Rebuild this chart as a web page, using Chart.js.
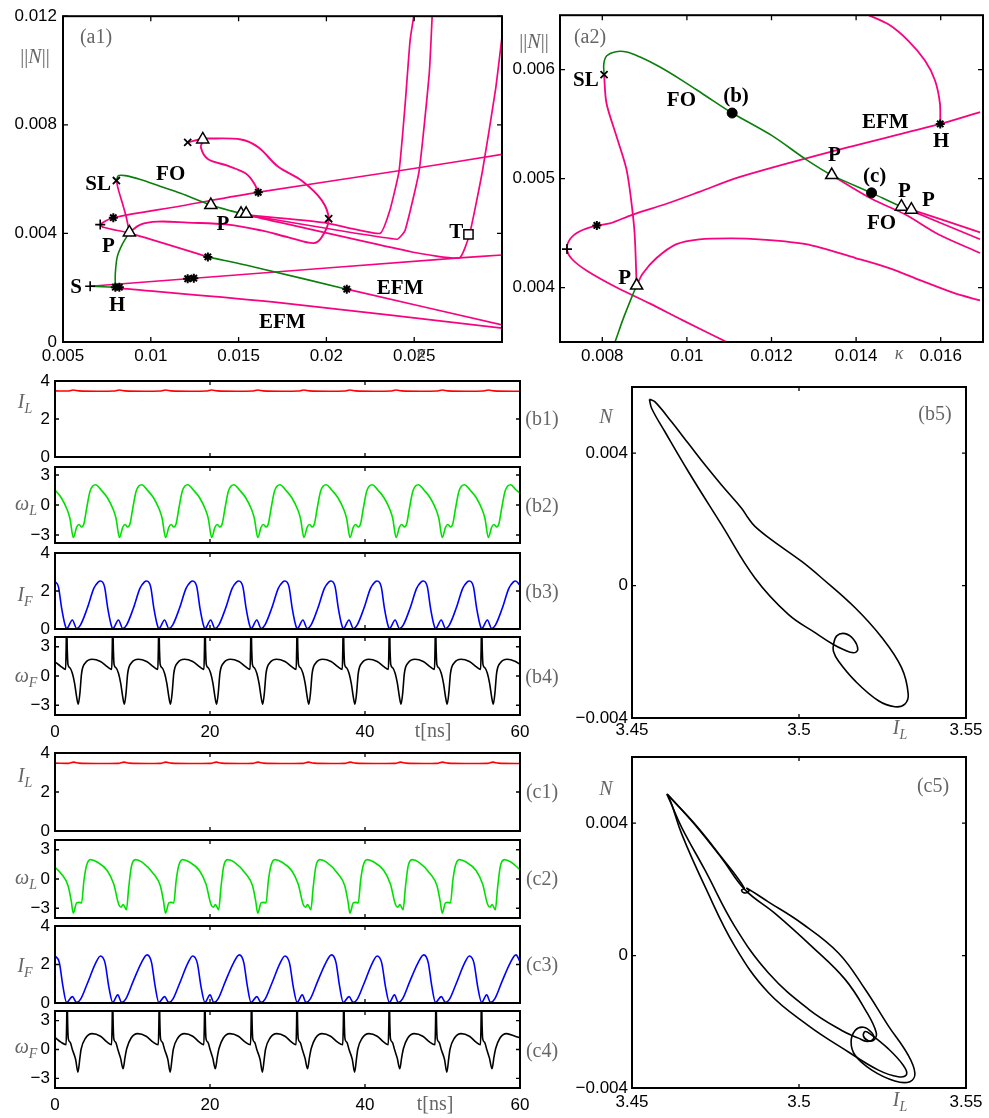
<!DOCTYPE html>
<html>
<head>
<meta charset="utf-8">
<title>Branches of periodic orbits and sample trajectories</title>
<script src="https://cdn.jsdelivr.net/npm/chart.js@4.4.1/dist/chart.umd.min.js"></script>
<style>
  html, body { margin: 0; padding: 0; background: #fff; }
  #page { position: relative; width: 989px; height: 1118px; overflow: hidden; }
  #page canvas { position: absolute; left: 0; top: 0; }
</style>
</head>
<body>
<div id="page">
  <canvas id="a1"></canvas><canvas id="a2"></canvas>
  <canvas id="b1"></canvas><canvas id="b2"></canvas><canvas id="b3"></canvas><canvas id="b4"></canvas><canvas id="b5"></canvas>
  <canvas id="c1"></canvas><canvas id="c2"></canvas><canvas id="c3"></canvas><canvas id="c4"></canvas><canvas id="c5"></canvas>
</div>
<script>
// ---------- (a1) bifurcation diagram, kappa vs ||N|| ----------
const a1Ticks = { x: [0.005, 0.01, 0.015, 0.02, 0.025], y: [0, 0.004, 0.008, 0.012] };

const a1UpperFold = [[0.0301,0.00692],[0.02488,0.00638],[0.01606,0.00551],[0.0117,0.00501],[0.007865,0.004577],[0.00712,0.004325],[0.00735,0.004217],[0.00884,0.004],[0.01325,0.003135]];
const a1FoldGreen = [[0.01325,0.003135],[0.01629,0.0027],[0.02116,0.001946]];
const a1FoldTail = [[0.02116,0.001946],[0.0301,0.000613]];
const a1SLine = [[0.006547,0.002054],[0.0121,0.00233],[0.02758,0.0031],[0.0301,0.003208]];
const a1HLine = [[0.00815,0.001982],[0.01743,0.001442],[0.0301,0.000505]];
const a1SGreen = [[0.006547,0.002054],[0.00798,0.002018]];
const a1HtoP = [[0.00798,0.002018],[0.00798,0.002523],[0.00809,0.003135],[0.00838,0.003604],[0.00878,0.004036]];
const a1PtoSL = [[0.00878,0.004036],[0.00861,0.004577],[0.00838,0.005118],[0.00815,0.005622],[0.00804,0.005947]];
const a1FO = [[0.00804,0.005947],[0.00815,0.006127],[0.00855,0.006127],[0.00941,0.005983],[0.01056,0.00573],[0.0117,0.005478],[0.01342,0.005046],[0.01457,0.004829],[0.01526,0.004721],[0.01543,0.004685]];
const a1Branch1 = [[0.01543,0.004685],[0.0199,0.004397],[0.02305,0.004],[0.02362,0.004865],[0.02414,0.006307],[0.02448,0.008722],[0.02477,0.011136],[0.025,0.0121]];
const a1Branch2 = [[0.01543,0.004685],[0.02402,0.003784],[0.02448,0.004109],[0.02528,0.006307],[0.02586,0.009911],[0.02603,0.0121]];
const a1Branch3 = [[0.01543,0.004685],[0.02488,0.003316],[0.02758,0.0031],[0.02815,0.003964],[0.02889,0.006307],[0.02964,0.009334],[0.0301,0.011785]];
const a1Loop = [[0.00878,0.004036],[0.00941,0.004325],[0.01039,0.004433],[0.0121,0.004397],[0.0144,0.004325],[0.01629,0.004109],[0.01784,0.003856],[0.01927,0.00364],[0.01973,0.003856],[0.02013,0.004505],[0.01973,0.005226],[0.01858,0.005947],[0.01726,0.006451],[0.01612,0.007172],[0.01514,0.00746],[0.01296,0.007496]];
const a1Hook = [[0.0121,0.007352],[0.01296,0.00746],[0.01285,0.007172],[0.01325,0.006739],[0.0144,0.006487],[0.01543,0.006199],[0.01589,0.005838],[0.01612,0.005514]];

const a1Plus = [[0.006547,0.002054],[0.00712,0.004325]];
const a1Star = [[0.007865,0.004577],[0.01325,0.003135],[0.01612,0.005514],[0.0121,0.00233],[0.01245,0.00235],[0.02116,0.001946],[0.00798,0.002018],[0.00821,0.002018]];
const a1Tri = [[0.00878,0.004036],[0.01342,0.005046],[0.01514,0.004721],[0.01543,0.004721],[0.01296,0.00746]];
const a1Cross = [[0.00804,0.005947],[0.0121,0.007352],[0.02013,0.004541]];
const a1Square = [[0.02809,0.003964]];

const a1Labels = [['SL',0.007,0.0058],['FO',0.01113,0.00616],['P',0.00758,0.0035],['P',0.01411,0.00432],['S',0.00574,0.00202],
                  ['H',0.00809,0.00133],['EFM',0.0242,0.00195],['EFM',0.01749,0.00072],['T',0.0274,0.00404]];

// ---------- (a2) enlargement ----------
const a2Ticks = { x: [0.008, 0.01, 0.012, 0.014, 0.016], y: [0.004, 0.005, 0.006] };

const a2FoLow = [[0.00824,0.00345],[0.008294,0.003493],[0.008482,0.003701],[0.008694,0.00391],[0.008812,0.004018]];
const a2PtoSL = [[0.008812,0.004018],[0.008765,0.004489],[0.008687,0.004787],[0.008569,0.005089],[0.008334,0.005391],[0.008099,0.005692],[0.008042,0.005955]];
const a2FO = [[0.008042,0.005955],[0.008035,0.006054],[0.008106,0.006127],[0.008294,0.006163],[0.008576,0.006163],[0.008882,0.006118],[0.009353,0.006027],[0.009894,0.0059],[0.010459,0.005756],[0.01107,0.005602],[0.012012,0.005394],[0.012812,0.005177],[0.013424,0.005032],[0.014365,0.004869],[0.015071,0.004742],[0.015306,0.004715]];
const a2Efm = [[0.01693,0.005611],[0.015989,0.005502],[0.013424,0.005249],[0.011235,0.005014],[0.010294,0.004878],[0.009518,0.004769],[0.008718,0.00467],[0.008177,0.004588],[0.007871,0.00457],[0.007471,0.004516],[0.007235,0.004443],[0.007165,0.004353],[0.007282,0.004262],[0.007635,0.004154],[0.008341,0.004],[0.009118,0.003855],[0.009894,0.003701],[0.01093,0.003502]];
const a2HUp = [[0.015989,0.005502],[0.015981,0.005692],[0.015864,0.005903],[0.015628,0.006084],[0.015235,0.006265],[0.014765,0.006416],[0.014254,0.006507]];
const a2PRight = [[0.008812,0.004018],[0.008953,0.004127],[0.009282,0.004271],[0.009753,0.004398],[0.010294,0.004443],[0.011071,0.004452],[0.011706,0.004443],[0.012812,0.004398],[0.013988,0.004271],[0.014765,0.004181],[0.015541,0.004063],[0.016341,0.003946],[0.01693,0.003882]];
const a2Branch1 = [[0.013424,0.005032],[0.014365,0.004815],[0.015165,0.00467],[0.015941,0.004489],[0.01693,0.004317]];
const a2Branch2 = [[0.015071,0.004742],[0.01693,0.004443]];
const a2Branch3 = [[0.015306,0.004715],[0.01693,0.004507]];

const a2Cross = [[0.008042,0.005955]];
const a2Star = [[0.007871,0.00457],[0.015989,0.005502]];
const a2Plus = [[0.007165,0.004353]];
const a2Tri = [[0.008812,0.004018],[0.013424,0.005032],[0.015071,0.004742],[0.015306,0.004715]];
const a2Dot = [[0.01107,0.005602],[0.014365,0.004869]];

const a2Labels = [['SL',0.00761,0.0059],['FO',0.00987,0.00572],['(b)',0.01116,0.00575],['P',0.00853,0.00408],['EFM',0.01469,0.00551],
                  ['H',0.01601,0.00534],['P',0.01349,0.00521],['(c)',0.01444,0.00502],['P',0.01514,0.00488],['P',0.01571,0.0048],['FO',0.0146,0.00459]];

// ---------- time traces, t in ns ----------
const tTicks = [0, 20, 40, 60];
const iTicks = [0, 2, 4];
const wTicks = [-3, 0, 3];

const iLb = [[0,3.48],[1.67,3.47],[2.37,3.53],[3.07,3.48],[5.57,3.46],[7.62,3.47],[8.32,3.53],[9.02,3.48],[11.52,3.46],
  [13.57,3.47],[14.27,3.53],[14.97,3.48],[17.47,3.46],[19.52,3.47],[20.22,3.53],[20.92,3.48],[23.42,3.46],
  [25.47,3.47],[26.17,3.53],[26.87,3.48],[29.37,3.46],[31.42,3.47],[32.12,3.53],[32.82,3.48],[35.32,3.46],
  [37.37,3.47],[38.07,3.53],[38.77,3.48],[41.27,3.46],[43.32,3.47],[44.02,3.53],[44.72,3.48],[47.22,3.46],
  [49.27,3.47],[49.97,3.53],[50.67,3.48],[53.17,3.46],[55.22,3.47],[55.92,3.53],[56.62,3.48],[59.12,3.46],[60,3.46]];

const wLb = [[0,1.5],[0.79,0.75],[1.59,-0.5],[1.93,-1.35],
  [2.37,-3.25],[2.8,-2.2],[3.1,-1.95],[3.44,-2.2],[3.74,-1.85],[4.08,-0.35],[4.51,1.35],[4.87,1.9],[5.24,2.03],[5.95,1.5],[6.74,0.75],[7.54,-0.5],[7.88,-1.35],
  [8.32,-3.25],[8.75,-2.2],[9.05,-1.95],[9.39,-2.2],[9.69,-1.85],[10.03,-0.35],[10.46,1.35],[10.82,1.9],[11.19,2.03],[11.9,1.5],[12.69,0.75],[13.49,-0.5],[13.83,-1.35],
  [14.27,-3.25],[14.7,-2.2],[15.0,-1.95],[15.34,-2.2],[15.64,-1.85],[15.98,-0.35],[16.41,1.35],[16.77,1.9],[17.14,2.03],[17.85,1.5],[18.64,0.75],[19.44,-0.5],[19.78,-1.35],
  [20.22,-3.25],[20.65,-2.2],[20.95,-1.95],[21.29,-2.2],[21.59,-1.85],[21.93,-0.35],[22.36,1.35],[22.72,1.9],[23.09,2.03],[23.8,1.5],[24.59,0.75],[25.39,-0.5],[25.73,-1.35],
  [26.17,-3.25],[26.6,-2.2],[26.9,-1.95],[27.24,-2.2],[27.54,-1.85],[27.88,-0.35],[28.31,1.35],[28.67,1.9],[29.04,2.03],[29.75,1.5],[30.54,0.75],[31.34,-0.5],[31.68,-1.35],
  [32.12,-3.25],[32.55,-2.2],[32.85,-1.95],[33.19,-2.2],[33.49,-1.85],[33.83,-0.35],[34.26,1.35],[34.62,1.9],[34.99,2.03],[35.7,1.5],[36.49,0.75],[37.29,-0.5],[37.63,-1.35],
  [38.07,-3.25],[38.5,-2.2],[38.8,-1.95],[39.14,-2.2],[39.44,-1.85],[39.78,-0.35],[40.21,1.35],[40.57,1.9],[40.94,2.03],[41.65,1.5],[42.44,0.75],[43.24,-0.5],[43.58,-1.35],
  [44.02,-3.25],[44.45,-2.2],[44.75,-1.95],[45.09,-2.2],[45.39,-1.85],[45.73,-0.35],[46.16,1.35],[46.52,1.9],[46.89,2.03],[47.6,1.5],[48.39,0.75],[49.19,-0.5],[49.53,-1.35],
  [49.97,-3.25],[50.4,-2.2],[50.7,-1.95],[51.04,-2.2],[51.34,-1.85],[51.68,-0.35],[52.11,1.35],[52.47,1.9],[52.84,2.03],[53.55,1.5],[54.34,0.75],[55.14,-0.5],[55.48,-1.35],
  [55.92,-3.25],[56.35,-2.2],[56.65,-1.95],[56.99,-2.2],[57.29,-1.85],[57.63,-0.35],[58.06,1.35],[58.42,1.9],[58.79,2.03],[59.5,1.5],[60,1.2]];

const iFb = [[0,2.5],[0.44,2.23],[0.86,1.09],[1.3,0.21],
  [1.5,0.02],[2.24,0.47],[2.79,0.03],[3.3,0.22],[4.16,1.09],[5.01,2.14],[5.57,2.47],[5.87,2.53],[6.39,2.23],[6.81,1.09],[7.25,0.21],
  [7.45,0.02],[8.19,0.47],[8.74,0.03],[9.25,0.22],[10.11,1.09],[10.96,2.14],[11.52,2.47],[11.82,2.53],[12.34,2.23],[12.76,1.09],[13.2,0.21],
  [13.4,0.02],[14.14,0.47],[14.69,0.03],[15.2,0.22],[16.06,1.09],[16.91,2.14],[17.47,2.47],[17.77,2.53],[18.29,2.23],[18.71,1.09],[19.15,0.21],
  [19.35,0.02],[20.09,0.47],[20.64,0.03],[21.15,0.22],[22.01,1.09],[22.86,2.14],[23.42,2.47],[23.72,2.53],[24.24,2.23],[24.66,1.09],[25.1,0.21],
  [25.3,0.02],[26.04,0.47],[26.59,0.03],[27.1,0.22],[27.96,1.09],[28.81,2.14],[29.37,2.47],[29.67,2.53],[30.19,2.23],[30.61,1.09],[31.05,0.21],
  [31.25,0.02],[31.99,0.47],[32.54,0.03],[33.05,0.22],[33.91,1.09],[34.76,2.14],[35.32,2.47],[35.62,2.53],[36.14,2.23],[36.56,1.09],[37.0,0.21],
  [37.2,0.02],[37.94,0.47],[38.49,0.03],[39.0,0.22],[39.86,1.09],[40.71,2.14],[41.27,2.47],[41.57,2.53],[42.09,2.23],[42.51,1.09],[42.95,0.21],
  [43.15,0.02],[43.89,0.47],[44.44,0.03],[44.95,0.22],[45.81,1.09],[46.66,2.14],[47.22,2.47],[47.52,2.53],[48.04,2.23],[48.46,1.09],[48.9,0.21],
  [49.1,0.02],[49.84,0.47],[50.39,0.03],[50.9,0.22],[51.76,1.09],[52.61,2.14],[53.17,2.47],[53.47,2.53],[53.99,2.23],[54.41,1.09],[54.85,0.21],
  [55.05,0.02],[55.79,0.47],[56.34,0.03],[56.85,0.22],[57.71,1.09],[58.56,2.14],[59.12,2.47],[59.42,2.53],[60,2.3]];

const wFb = [[0,1.45],[0.78,0.96],[1.21,0.72],
  [1.37,0.68],[1.43,2.5],[1.5,5.5],[1.59,2.5],[1.67,1.2],[1.92,0.85],[2.24,0.28],[2.53,-0.76],[2.79,-2.14],[3.0,-2.9],[3.21,-1.79],[3.43,0.28],[3.95,1.38],[4.8,1.72],[5.87,1.48],[6.73,0.96],[7.16,0.72],
  [7.32,0.68],[7.38,2.5],[7.45,5.5],[7.54,2.5],[7.62,1.2],[7.87,0.85],[8.19,0.28],[8.48,-0.76],[8.74,-2.14],[8.95,-2.9],[9.16,-1.79],[9.38,0.28],[9.9,1.38],[10.75,1.72],[11.82,1.48],[12.68,0.96],[13.11,0.72],
  [13.27,0.68],[13.33,2.5],[13.4,5.5],[13.49,2.5],[13.57,1.2],[13.82,0.85],[14.14,0.28],[14.43,-0.76],[14.69,-2.14],[14.9,-2.9],[15.11,-1.79],[15.33,0.28],[15.85,1.38],[16.7,1.72],[17.77,1.48],[18.63,0.96],[19.06,0.72],
  [19.22,0.68],[19.28,2.5],[19.35,5.5],[19.44,2.5],[19.52,1.2],[19.77,0.85],[20.09,0.28],[20.38,-0.76],[20.64,-2.14],[20.85,-2.9],[21.06,-1.79],[21.28,0.28],[21.8,1.38],[22.65,1.72],[23.72,1.48],[24.58,0.96],[25.01,0.72],
  [25.17,0.68],[25.23,2.5],[25.3,5.5],[25.39,2.5],[25.47,1.2],[25.72,0.85],[26.04,0.28],[26.33,-0.76],[26.59,-2.14],[26.8,-2.9],[27.01,-1.79],[27.23,0.28],[27.75,1.38],[28.6,1.72],[29.67,1.48],[30.53,0.96],[30.96,0.72],
  [31.12,0.68],[31.18,2.5],[31.25,5.5],[31.34,2.5],[31.42,1.2],[31.67,0.85],[31.99,0.28],[32.28,-0.76],[32.54,-2.14],[32.75,-2.9],[32.96,-1.79],[33.18,0.28],[33.7,1.38],[34.55,1.72],[35.62,1.48],[36.48,0.96],[36.91,0.72],
  [37.07,0.68],[37.13,2.5],[37.2,5.5],[37.29,2.5],[37.37,1.2],[37.62,0.85],[37.94,0.28],[38.23,-0.76],[38.49,-2.14],[38.7,-2.9],[38.91,-1.79],[39.13,0.28],[39.65,1.38],[40.5,1.72],[41.57,1.48],[42.43,0.96],[42.86,0.72],
  [43.02,0.68],[43.08,2.5],[43.15,5.5],[43.24,2.5],[43.32,1.2],[43.57,0.85],[43.89,0.28],[44.18,-0.76],[44.44,-2.14],[44.65,-2.9],[44.86,-1.79],[45.08,0.28],[45.6,1.38],[46.45,1.72],[47.52,1.48],[48.38,0.96],[48.81,0.72],
  [48.97,0.68],[49.03,2.5],[49.1,5.5],[49.19,2.5],[49.27,1.2],[49.52,0.85],[49.84,0.28],[50.13,-0.76],[50.39,-2.14],[50.6,-2.9],[50.81,-1.79],[51.03,0.28],[51.55,1.38],[52.4,1.72],[53.47,1.48],[54.33,0.96],[54.76,0.72],
  [54.92,0.68],[54.98,2.5],[55.05,5.5],[55.14,2.5],[55.22,1.2],[55.47,0.85],[55.79,0.28],[56.08,-0.76],[56.34,-2.14],[56.55,-2.9],[56.76,-1.79],[56.98,0.28],[57.5,1.38],[58.35,1.72],[59.42,1.48],[60,1.2]];

const iLc = [[0,3.48],[1.7,3.47],[2.4,3.53],[3.1,3.48],[5.4,3.46],[8.2,3.47],[8.9,3.53],[9.6,3.48],[11.9,3.46],
  [13.6,3.47],[14.3,3.53],[15.0,3.48],[17.3,3.46],[20.1,3.47],[20.8,3.53],[21.5,3.48],[23.8,3.46],
  [25.5,3.47],[26.2,3.53],[26.9,3.48],[29.2,3.46],[32.0,3.47],[32.7,3.53],[33.4,3.48],[35.7,3.46],
  [37.4,3.47],[38.1,3.53],[38.8,3.48],[41.1,3.46],[43.9,3.47],[44.6,3.53],[45.3,3.48],[47.6,3.46],
  [49.3,3.47],[50.0,3.53],[50.7,3.48],[53.0,3.46],[55.8,3.47],[56.5,3.53],[57.2,3.48],[59.5,3.46],[60,3.46]];

const wLc = [[0,1.2],[0.83,0.52],[1.69,-0.7],[2.1,-2.27],
  [2.36,-3.5],[2.79,-2.45],[3.09,-2.4],[3.43,-2.45],[3.73,-0.18],[4.07,1.39],[4.59,1.99],[5.44,1.74],[6.73,0.87],[7.58,-0.52],[8.23,-2.62],[8.53,-2.9],[8.79,-2.62],[9.22,-3.14],[9.51,-0.88],[9.86,1.29],[10.37,1.99],[11.23,1.74],[12.73,0.52],[13.59,-0.7],[14.0,-2.27],
  [14.26,-3.5],[14.69,-2.45],[14.99,-2.4],[15.33,-2.45],[15.63,-0.18],[15.97,1.39],[16.49,1.99],[17.34,1.74],[18.63,0.87],[19.48,-0.52],[20.13,-2.62],[20.43,-2.9],[20.69,-2.62],[21.12,-3.14],[21.41,-0.88],[21.76,1.29],[22.27,1.99],[23.13,1.74],[24.63,0.52],[25.49,-0.7],[25.9,-2.27],
  [26.16,-3.5],[26.59,-2.45],[26.89,-2.4],[27.23,-2.45],[27.53,-0.18],[27.87,1.39],[28.39,1.99],[29.24,1.74],[30.53,0.87],[31.38,-0.52],[32.03,-2.62],[32.33,-2.9],[32.59,-2.62],[33.02,-3.14],[33.31,-0.88],[33.66,1.29],[34.17,1.99],[35.03,1.74],[36.53,0.52],[37.39,-0.7],[37.8,-2.27],
  [38.06,-3.5],[38.49,-2.45],[38.79,-2.4],[39.13,-2.45],[39.43,-0.18],[39.77,1.39],[40.29,1.99],[41.14,1.74],[42.43,0.87],[43.28,-0.52],[43.93,-2.62],[44.23,-2.9],[44.49,-2.62],[44.92,-3.14],[45.21,-0.88],[45.56,1.29],[46.07,1.99],[46.93,1.74],[48.43,0.52],[49.29,-0.7],[49.7,-2.27],
  [49.96,-3.5],[50.39,-2.45],[50.69,-2.4],[51.03,-2.45],[51.33,-0.18],[51.67,1.39],[52.19,1.99],[53.04,1.74],[54.33,0.87],[55.18,-0.52],[55.83,-2.62],[56.13,-2.9],[56.39,-2.62],[56.82,-3.14],[57.11,-0.88],[57.46,1.29],[57.97,1.99],[58.83,1.74],[60,0.95]];

const iFc = [[0,2.45],[0.56,2.1],[1.01,0.9],
  [1.5,0.03],[2.24,0.33],[2.79,0.03],[3.31,0.2],[4.16,1.0],[5.23,2.06],[5.87,2.44],[6.47,2.06],[6.94,0.85],[7.45,0.03],[8.1,0.42],[8.6,0.03],[9.12,0.2],[10.06,1.1],[11.16,2.1],[11.88,2.5],[12.46,2.1],[12.91,0.9],
  [13.4,0.03],[14.14,0.33],[14.69,0.03],[15.21,0.2],[16.06,1.0],[17.13,2.06],[17.77,2.44],[18.37,2.06],[18.84,0.85],[19.35,0.03],[20.0,0.42],[20.5,0.03],[21.02,0.2],[21.96,1.1],[23.06,2.1],[23.78,2.5],[24.36,2.1],[24.81,0.9],
  [25.3,0.03],[26.04,0.33],[26.59,0.03],[27.11,0.2],[27.96,1.0],[29.03,2.06],[29.67,2.44],[30.27,2.06],[30.74,0.85],[31.25,0.03],[31.9,0.42],[32.4,0.03],[32.92,0.2],[33.86,1.1],[34.96,2.1],[35.68,2.5],[36.26,2.1],[36.71,0.9],
  [37.2,0.03],[37.94,0.33],[38.49,0.03],[39.01,0.2],[39.86,1.0],[40.93,2.06],[41.57,2.44],[42.17,2.06],[42.64,0.85],[43.15,0.03],[43.8,0.42],[44.3,0.03],[44.82,0.2],[45.76,1.1],[46.86,2.1],[47.58,2.5],[48.16,2.1],[48.61,0.9],
  [49.1,0.03],[49.84,0.33],[50.39,0.03],[50.91,0.2],[51.76,1.0],[52.83,2.06],[53.47,2.44],[54.07,2.06],[54.54,0.85],[55.05,0.03],[55.7,0.42],[56.2,0.03],[56.72,0.2],[57.66,1.1],[58.76,2.1],[59.48,2.5],[60,2.15]];

const wFc = [[0,1.25],[0.76,0.76],
  [1.43,0.5],[1.5,2.5],[1.56,5.5],[1.64,2.5],[1.72,1.1],[1.96,0.75],[2.24,0],[2.66,-1.03],[2.96,-2.35],[3.21,-0.9],[3.36,0],[3.95,1.2],[4.8,1.65],[5.87,1.38],[6.73,0.76],
  [7.3,0.5],[7.37,2.5],[7.43,5.5],[7.51,2.5],[7.59,1.1],[7.83,0.75],[8.11,0],[8.46,-0.9],[8.79,-2.0],[9.04,-0.8],[9.26,0.1],[9.82,1.2],[10.66,1.65],[11.76,1.38],[12.66,0.76],
  [13.33,0.5],[13.4,2.5],[13.46,5.5],[13.54,2.5],[13.62,1.1],[13.86,0.75],[14.14,0],[14.56,-1.03],[14.86,-2.35],[15.11,-0.9],[15.26,0],[15.85,1.2],[16.7,1.65],[17.77,1.38],[18.63,0.76],
  [19.2,0.5],[19.27,2.5],[19.33,5.5],[19.41,2.5],[19.49,1.1],[19.73,0.75],[20.01,0],[20.36,-0.9],[20.69,-2.0],[20.94,-0.8],[21.16,0.1],[21.72,1.2],[22.56,1.65],[23.66,1.38],[24.56,0.76],
  [25.23,0.5],[25.3,2.5],[25.36,5.5],[25.44,2.5],[25.52,1.1],[25.76,0.75],[26.04,0],[26.46,-1.03],[26.76,-2.35],[27.01,-0.9],[27.16,0],[27.75,1.2],[28.6,1.65],[29.67,1.38],[30.53,0.76],
  [31.1,0.5],[31.17,2.5],[31.23,5.5],[31.31,2.5],[31.39,1.1],[31.63,0.75],[31.91,0],[32.26,-0.9],[32.59,-2.0],[32.84,-0.8],[33.06,0.1],[33.62,1.2],[34.46,1.65],[35.56,1.38],[36.46,0.76],
  [37.13,0.5],[37.2,2.5],[37.26,5.5],[37.34,2.5],[37.42,1.1],[37.66,0.75],[37.94,0],[38.36,-1.03],[38.66,-2.35],[38.91,-0.9],[39.06,0],[39.65,1.2],[40.5,1.65],[41.57,1.38],[42.43,0.76],
  [43.0,0.5],[43.07,2.5],[43.13,5.5],[43.21,2.5],[43.29,1.1],[43.53,0.75],[43.81,0],[44.16,-0.9],[44.49,-2.0],[44.74,-0.8],[44.96,0.1],[45.52,1.2],[46.36,1.65],[47.46,1.38],[48.36,0.76],
  [49.03,0.5],[49.1,2.5],[49.16,5.5],[49.24,2.5],[49.32,1.1],[49.56,0.75],[49.84,0],[50.26,-1.03],[50.56,-2.35],[50.81,-0.9],[50.96,0],[51.55,1.2],[52.4,1.65],[53.47,1.38],[54.33,0.76],
  [54.9,0.5],[54.97,2.5],[55.03,5.5],[55.11,2.5],[55.19,1.1],[55.43,0.75],[55.71,0],[56.06,-0.9],[56.39,-2.0],[56.64,-0.8],[56.86,0.1],[57.42,1.2],[58.26,1.65],[59.36,1.38],[60,1.2]];

// ---------- phase portraits, I_L vs N ----------
const phTicks = { x: [3.45, 3.5, 3.55], y: [-0.004, 0, 0.004] };

const orbitB = [[3.4552,0.00563],[3.4569,0.00555],[3.4619,0.00494],[3.4669,0.00429],[3.4719,0.00364],[3.4768,0.00304],[3.4828,0.00234],[3.4848,0.00204],[3.4868,0.00179],
  [3.4918,0.00138],[3.5008,0.00073],[3.5068,0.00023],[3.5168,-0.00067],[3.5248,-0.00157],[3.5307,-0.00248],[3.5327,-0.00328],[3.5317,-0.00358],[3.5287,-0.00366],
  [3.5238,-0.00348],[3.5168,-0.00288],[3.5118,-0.00228],[3.5103,-0.00198],[3.5103,-0.0018],[3.5113,-0.00152],[3.5138,-0.00145],[3.5163,-0.00162],[3.5176,-0.00193],
  [3.5163,-0.00203],[3.5133,-0.00193],[3.5103,-0.00178],[3.5048,-0.00142],[3.4968,-0.00087],[3.4868,0.00023],[3.4768,0.00184],[3.4669,0.00344],[3.4599,0.00464],
  [3.4559,0.00535],[3.4552,0.00563]];

const orbitC1 = [[3.4604,0.004885],[3.4689,0.003968],[3.4768,0.002971],[3.4836,0.002044],[3.4828,0.001974],[3.4836,0.001894],[3.485,0.001944],[3.4844,0.002034],
  [3.4908,0.001625],[3.5008,0.000977],[3.5118,0.00008],[3.5198,-0.001017],[3.5267,-0.002114],[3.5327,-0.003011],[3.5347,-0.003559],[3.5332,-0.003808],[3.5287,-0.003789],
  [3.5218,-0.00346],[3.5168,-0.003011],[3.5156,-0.002612],[3.5168,-0.002263],[3.5193,-0.002163],[3.5218,-0.002333],[3.5223,-0.002512],[3.5203,-0.002592],[3.5178,-0.002493],
  [3.5128,-0.002263],[3.5028,-0.001615],[3.4908,-0.000518],[3.4808,0.000877],[3.4719,0.002572],[3.4649,0.003868],[3.4614,0.004666],[3.4604,0.004885]];
const orbitC2 = [[3.4607,0.004865],[3.4689,0.003948],[3.4768,0.002951],[3.4838,0.001994],[3.4928,0.001276],[3.5038,0.000279],[3.5138,-0.000718],[3.5203,-0.001715],
  [3.5231,-0.002313],[3.5226,-0.002532],[3.5208,-0.002572],[3.5193,-0.002433],[3.5198,-0.002293],[3.5213,-0.002363],[3.5267,-0.002811],[3.5312,-0.00331],[3.5322,-0.003589],
  [3.5297,-0.003659],[3.5238,-0.00346],[3.5148,-0.002911],[3.5028,-0.002114],[3.4908,-0.001117],[3.4808,0.000279],[3.4719,0.002074],[3.4649,0.003669],[3.4619,0.004566],[3.4607,0.004865]];

// ---------- drawing helpers ----------
const W = 989, H = 1118;
const SERIF = '"Liberation Serif", "Times New Roman", serif';
const SANS = '"Liberation Sans", Arial, Helvetica, sans-serif';
const PINK = '#f8037f';
const DKGREEN = '#0b7f0b';
const GREY = '#666666';
const fBold = 'bold 21px ' + SERIF;
const fGrey = '20px ' + SERIF;
const fItal = 'italic 20px ' + SERIF;
const fSub = 'italic 14px ' + SERIF;

const pts = a => a.map(p => ({ x: p[0], y: p[1] }));
const num = v => (v < 0 ? '\u2212' + (-v) : String(v));

function curve(data, color, width, tension) {
  return { data: pts(data), showLine: true, borderColor: color, borderWidth: width, pointRadius: 0, tension: tension ?? 0.3 };
}
function trace(data, color) {
  return { data: pts(data), showLine: true, borderColor: color, borderWidth: 1.6, pointRadius: 0, cubicInterpolationMode: 'monotone' };
}
function markers(data, style, r, fill, bw) {
  return { data: pts(data), showLine: false, pointStyle: style, pointRadius: r, pointBorderColor: '#000',
           pointBackgroundColor: fill || '#000', pointBorderWidth: bw || 1.5 };
}

// text with optional italic / subscript pieces, centred on (x, y)
function drawParts(ctx, parts, x, y, color) {
  let w = 0;
  parts.forEach(p => { ctx.font = p[1]; w += ctx.measureText(p[0]).width; });
  let cx = x - w / 2;
  ctx.fillStyle = color;
  ctx.textAlign = 'left';
  ctx.textBaseline = 'middle';
  parts.forEach(p => { ctx.font = p[1]; ctx.fillText(p[0], cx, y + (p[2] || 0)); cx += ctx.measureText(p[0]).width; });
}

const framePlugin = {
  id: 'frame',
  afterDatasetsDraw(chart, args, o) {
    const { ctx, chartArea: a, scales: { x, y } } = chart;
    const L = o.tick || 5;
    ctx.save();
    ctx.strokeStyle = '#000';
    ctx.lineWidth = 1.3;
    ctx.beginPath();
    x.ticks.forEach(t => {
      const p = x.getPixelForValue(t.value);
      ctx.moveTo(p, a.bottom); ctx.lineTo(p, a.bottom - L);
      ctx.moveTo(p, a.top); ctx.lineTo(p, a.top + L);
    });
    y.ticks.forEach(t => {
      const p = y.getPixelForValue(t.value);
      ctx.moveTo(a.left, p); ctx.lineTo(a.left + L, p);
      ctx.moveTo(a.right, p); ctx.lineTo(a.right - L, p);
    });
    ctx.stroke();
    ctx.lineWidth = 2;
    ctx.strokeRect(a.left, a.top, a.right - a.left, a.bottom - a.top);
    ctx.restore();
  }
};

const notesPlugin = {
  id: 'notes',
  afterDraw(chart, args, o) {
    const { ctx, scales: { x, y } } = chart;
    ctx.save();
    (o.items || []).forEach(it => {
      const px = it.page ? it.x : x.getPixelForValue(it.x);
      const py = it.page ? it.y : y.getPixelForValue(it.y);
      drawParts(ctx, it.parts, px, py, it.color || '#000');
    });
    ctx.restore();
  }
};

// tick labels are clipped to the axis box, so the y axis gets all the room left of the plot
function axis(spec, horizontal, size) {
  return {
    type: 'linear', min: spec.min, max: spec.max,
    grid: { display: false, drawTicks: false },
    border: { display: false },
    afterBuildTicks: s => { s.ticks = spec.ticks.map(v => ({ value: v })); },
    afterFit: s => { if (horizontal) s.height = size; else s.width = size; },
    ticks: { display: spec.show !== false, padding: spec.pad ?? 5, color: '#000',
             font: { family: SANS, size: 17 }, maxRotation: 0, autoSkip: false, callback: v => num(v) }
  };
}

function panel(id, box, cfg) {
  const cv = document.getElementById(id);
  cv.width = W; cv.height = H;
  const yw = Math.min(box.x, 62), xh = 28;
  return new Chart(cv, {
    type: 'scatter',
    data: { datasets: cfg.datasets },
    options: {
      responsive: false, animation: false, events: [],
      layout: { autoPadding: false,
                padding: { left: box.x - yw, top: box.y, right: W - box.x - box.w, bottom: H - box.y - box.h - xh } },
      plugins: { legend: { display: false }, tooltip: { enabled: false },
                 frame: { tick: cfg.tick || 5 }, notes: { items: cfg.notes || [] } },
      scales: { x: axis(cfg.x, true, xh), y: axis(cfg.y, false, yw) }
    },
    plugins: [framePlugin, notesPlugin]
  });
}

const bold = (list) => list.map(l => ({ parts: [[l[0], fBold]], x: l[1], y: l[2] }));
const grey = (s, x, y) => ({ parts: [[s, fGrey]], x, y, page: true, color: GREY });
const sym = (main, sub, x, y) => ({ parts: [[main, fItal], [sub, fSub, 6]], x, y, page: true, color: GREY });
const normN = (x, y) => ({ parts: [['||', fGrey], ['N', fItal], ['||', fGrey]], x, y, page: true, color: GREY });
const kappa = (x, y) => ({ parts: [['\u03ba', 'italic 18px ' + SERIF]], x, y, page: true, color: GREY });

// ---------- (a1) ----------
panel('a1', { x: 63, y: 10, w: 439, h: 332 }, {
  x: { min: 0.005, max: 0.03, ticks: a1Ticks.x, pad: 4 },
  y: { min: 0, max: 0.012, ticks: a1Ticks.y, pad: 6 },
  datasets: [
    markers(a1Tri, 'triangle', 7, '#fff'),
    markers(a1Square, 'rect', 6.5, '#fff'),
    markers(a1Star, 'star', 4.5, '#000', 2),
    markers(a1Plus, 'cross', 5, '#000', 1.6),
    markers(a1Cross, 'crossRot', 5, '#000', 1.8),
    curve(a1FO, DKGREEN, 1.6), curve(a1FoldGreen, DKGREEN, 1.6), curve(a1HtoP, DKGREEN, 1.6), curve(a1SGreen, DKGREEN, 1.6),
    curve(a1UpperFold, PINK, 1.7), curve(a1FoldTail, PINK, 1.7), curve(a1SLine, PINK, 1.7), curve(a1HLine, PINK, 1.7),
    curve(a1PtoSL, PINK, 1.7), curve(a1Branch1, PINK, 1.7, 0.15), curve(a1Branch2, PINK, 1.7, 0.15), curve(a1Branch3, PINK, 1.7, 0.15),
    curve(a1Loop, PINK, 1.9, 0.35), curve(a1Hook, PINK, 1.9, 0.35)
  ],
  notes: bold(a1Labels).concat([grey('(a1)', 96, 38), normN(35, 58), kappa(421, 353)])
});

// ---------- (a2) ----------
panel('a2', { x: 560, y: 10, w: 423, h: 332 }, {
  x: { min: 0.007, max: 0.017, ticks: a2Ticks.x, pad: 4 },
  y: { min: 0.0035, max: 0.0065, ticks: a2Ticks.y, pad: 5 },
  datasets: [
    markers(a2Tri, 'triangle', 7, '#fff'),
    markers(a2Dot, 'circle', 5, '#000', 1),
    markers(a2Star, 'star', 4.5, '#000', 2),
    markers(a2Plus, 'cross', 5, '#000', 1.6),
    markers(a2Cross, 'crossRot', 5, '#000', 1.8),
    curve(a2FoLow, DKGREEN, 1.6), curve(a2FO, DKGREEN, 1.6),
    curve(a2PtoSL, PINK, 1.8), curve(a2Efm, PINK, 1.8), curve(a2HUp, PINK, 1.8), curve(a2PRight, PINK, 1.8),
    curve(a2Branch1, PINK, 1.8), curve(a2Branch2, PINK, 1.8), curve(a2Branch3, PINK, 1.8)
  ],
  notes: bold(a2Labels).concat([grey('(a2)', 590, 38), normN(534, 43), kappa(899, 354)])
});

// ---------- time traces ----------
const tAxis = show => ({ min: 0, max: 60, ticks: tTicks, show, pad: 7 });

panel('b1', { x: 55, y: 381, w: 465, h: 76 }, { tick: 4, x: tAxis(false), y: { min: 0, max: 4, ticks: iTicks },
  datasets: [trace(iLb, '#ff0000')], notes: [sym('I', 'L', 25, 403), grey('(b1)', 542, 420)] });
panel('b2', { x: 55, y: 467, w: 465, h: 76 }, { tick: 4, x: tAxis(false), y: { min: -3.8, max: 3.8, ticks: wTicks },
  datasets: [trace(wLb, '#00e000')], notes: [sym('\u03c9', 'L', 26, 505), grey('(b2)', 542, 507)] });
panel('b3', { x: 55, y: 553, w: 465, h: 76 }, { tick: 4, x: tAxis(false), y: { min: 0, max: 4, ticks: iTicks },
  datasets: [trace(iFb, '#0000ff')], notes: [sym('I', 'F', 25, 596), grey('(b3)', 542, 593)] });
panel('b4', { x: 55, y: 637, w: 465, h: 78 }, { tick: 4, x: tAxis(true), y: { min: -4, max: 4, ticks: wTicks },
  datasets: [trace(wFb, '#000000')], notes: [sym('\u03c9', 'F', 26, 677), grey('(b4)', 542, 678), grey('t[ns]', 433, 732)] });

panel('c1', { x: 55, y: 753, w: 465, h: 78 }, { tick: 4, x: tAxis(false), y: { min: 0, max: 4, ticks: iTicks },
  datasets: [trace(iLc, '#ff0000')], notes: [sym('I', 'L', 25, 777), grey('(c1)', 542, 793)] });
panel('c2', { x: 55, y: 840, w: 465, h: 78 }, { tick: 4, x: tAxis(false), y: { min: -4, max: 4, ticks: wTicks },
  datasets: [trace(wLc, '#00e000')], notes: [sym('\u03c9', 'L', 26, 879), grey('(c2)', 542, 880)] });
panel('c3', { x: 55, y: 926, w: 465, h: 77 }, { tick: 4, x: tAxis(false), y: { min: 0, max: 4, ticks: iTicks },
  datasets: [trace(iFc, '#0000ff')], notes: [sym('I', 'F', 25, 967), grey('(c3)', 542, 966)] });
panel('c4', { x: 55, y: 1011, w: 465, h: 77 }, { tick: 4, x: tAxis(true), y: { min: -4, max: 4, ticks: wTicks },
  datasets: [trace(wFc, '#000000')], notes: [sym('\u03c9', 'F', 26, 1048), grey('(c4)', 542, 1052), grey('t[ns]', 435, 1105)] });

// ---------- phase portraits ----------
panel('b5', { x: 632, y: 387, w: 334, h: 331 }, { tick: 4,
  x: { min: 3.45, max: 3.55, ticks: phTicks.x, pad: 2 }, y: { min: -0.004, max: 0.006, ticks: phTicks.y, pad: 4 },
  datasets: [curve(orbitB, '#000', 1.6, 0.4)],
  notes: [{ parts: [['N', fItal]], x: 606, y: 418, page: true, color: GREY }, grey('(b5)', 935, 415), sym('I', 'L', 900, 729)] });
panel('c5', { x: 632, y: 757, w: 334, h: 331 }, { tick: 4,
  x: { min: 3.45, max: 3.55, ticks: phTicks.x, pad: 4 }, y: { min: -0.004, max: 0.006, ticks: phTicks.y, pad: 4 },
  datasets: [curve(orbitC1, '#000', 1.6, 0.4), curve(orbitC2, '#000', 1.6, 0.4)],
  notes: [{ parts: [['N', fItal]], x: 606, y: 790, page: true, color: GREY }, grey('(c5)', 933, 787), sym('I', 'L', 900, 1101)] });
</script>
</body>
</html>
